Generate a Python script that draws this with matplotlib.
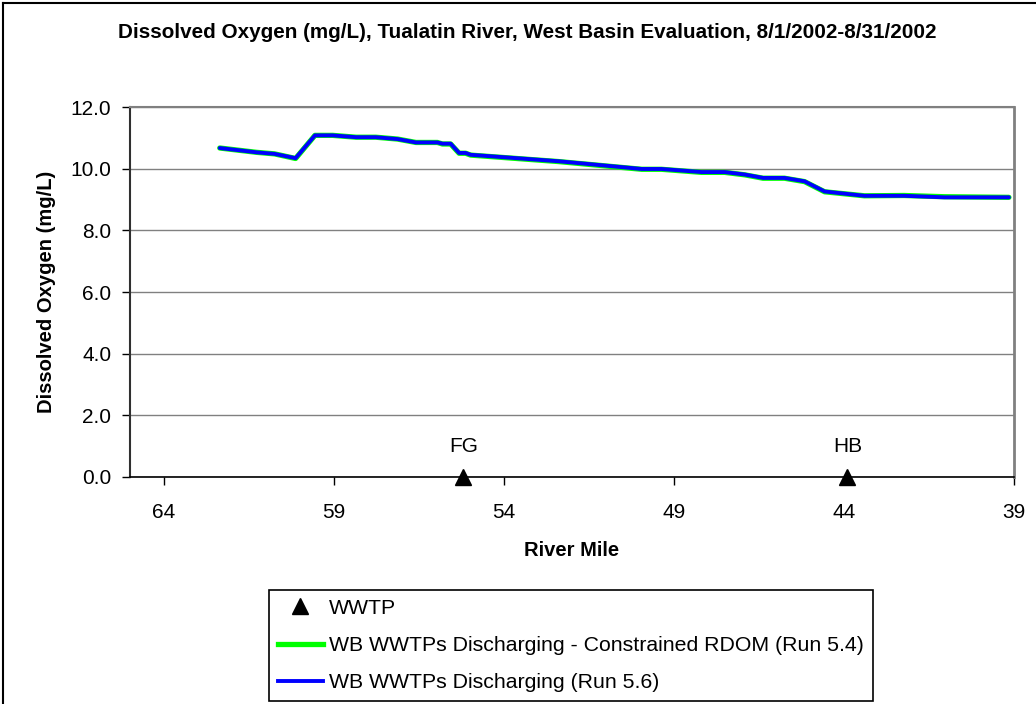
import matplotlib.pyplot as plt
from matplotlib.lines import Line2D

plt.rcParams['font.family'] = ['Liberation Sans', 'DejaVu Sans']

# river mile along the Tualatin, dissolved oxygen (mg/L) for the two runs
river_mile = [62.36, 61.28, 60.75, 60.13, 59.56, 59.04, 58.35, 57.77, 57.13, 56.59,
              55.96, 55.81, 55.57, 55.32, 55.13, 54.98, 52.39, 49.95, 49.37, 48.19,
              47.51, 46.92, 46.38, 45.75, 45.16, 44.57, 43.40, 42.23, 41.05, 39.15]
do_run56 = [10.67, 10.53, 10.48, 10.34, 11.08, 11.08, 11.02, 11.02, 10.96, 10.85,
            10.85, 10.81, 10.81, 10.51, 10.51, 10.45, 10.24, 9.99, 9.99, 9.89,
            9.89, 9.81, 9.70, 9.70, 9.59, 9.26, 9.12, 9.12, 9.07, 9.07]
do_run54 = [10.67, 10.53, 10.48, 10.33, 11.08, 11.08, 11.02, 11.02, 10.96, 10.85,
            10.85, 10.80, 10.80, 10.50, 10.50, 10.44, 10.23, 9.98, 9.98, 9.88,
            9.88, 9.80, 9.69, 9.69, 9.58, 9.25, 9.12, 9.13, 9.09, 9.07]

wwtp_mile = [55.2, 43.9]
wwtp_do = [0, 0]
wwtp_names = ['FG', 'HB']

x_ticks = [64, 59, 54, 49, 44, 39]
y_ticks = [0, 2, 4, 6, 8, 10, 12]

fig = plt.figure(figsize=(10.36, 7.04), dpi=100)
ax = fig.add_axes([130 / 1036, 1 - 477 / 704, 884 / 1036, 370 / 704])

ax.plot(river_mile, do_run54, color='#00ff00', lw=3.8, solid_capstyle='round',
        label='WB WWTPs Discharging - Constrained RDOM (Run 5.4)')
ax.plot(river_mile, do_run56, color='#0000ff', lw=2.8, solid_capstyle='round',
        label='WB WWTPs Discharging (Run 5.6)')
ax.plot(wwtp_mile, wwtp_do, linestyle='none', marker='^', color='black', ms=11,
        clip_on=False, zorder=5)
for m, n in zip(wwtp_mile, wwtp_names):
    ax.annotate(n, (m, 0), xytext=(0, 22), textcoords='offset points',
                ha='center', va='center', fontsize=15)

ax.set_xlim(65, 39)
ax.set_ylim(0, 12)
ax.set_xticks(x_ticks)
ax.set_yticks(y_ticks)
ax.set_yticklabels(['%.1f' % v for v in y_ticks])
ax.yaxis.grid(True, color='#808080', lw=1)
ax.set_axisbelow(True)

ax.spines['left'].set_color('#303030')
ax.spines['left'].set_linewidth(1.5)
ax.spines['bottom'].set_color('black')
ax.spines['bottom'].set_linewidth(1.2)
ax.spines['right'].set_color('#808080')
ax.spines['right'].set_linewidth(2)
ax.spines['top'].set_color('#808080')
ax.spines['top'].set_linewidth(1.5)
ax.tick_params(axis='both', direction='out', length=5.5, width=1, labelsize=15)
ax.tick_params(axis='x', pad=13)
ax.tick_params(axis='y', pad=8)

ax.set_xlabel('River Mile', fontsize=14.5, fontweight='bold', labelpad=14)
ax.set_ylabel('Dissolved Oxygen (mg/L)', fontsize=14.5, fontweight='bold', labelpad=10)

fig.text(527 / 1036, 1 - 33 / 704,
         'Dissolved Oxygen (mg/L), Tualatin River, West Basin Evaluation, 8/1/2002-8/31/2002',
         ha='center', va='center', fontsize=14.9, fontweight='bold')

handles = [Line2D([], [], linestyle='none', marker='^', color='black', ms=11),
           Line2D([], [], color='#00ff00', lw=3.8),
           Line2D([], [], color='#0000ff', lw=2.8)]
labels = ['WWTP', 'WB WWTPs Discharging - Constrained RDOM (Run 5.4)',
          'WB WWTPs Discharging (Run 5.6)']
leg = fig.legend(handles, labels, loc='upper left',
                 bbox_to_anchor=(269 / 1036, 1 - 590 / 704), borderaxespad=0,
                 frameon=True, fancybox=False, edgecolor='black', framealpha=1,
                 fontsize=15.3, handlelength=2.1, handletextpad=0.3,
                 borderpad=0.42, labelspacing=0.85)
leg.get_frame().set_linewidth(1.2)

# outer chart frame (left and top edges visible)
fig.add_artist(Line2D([3 / 1036, 3 / 1036], [0, 1 - 3 / 704], color='black', lw=1.5,
                      transform=fig.transFigure))
fig.add_artist(Line2D([3 / 1036, 1], [1 - 3 / 704, 1 - 3 / 704], color='black', lw=1.5,
                      transform=fig.transFigure))

fig.savefig('out.png', dpi=100)
